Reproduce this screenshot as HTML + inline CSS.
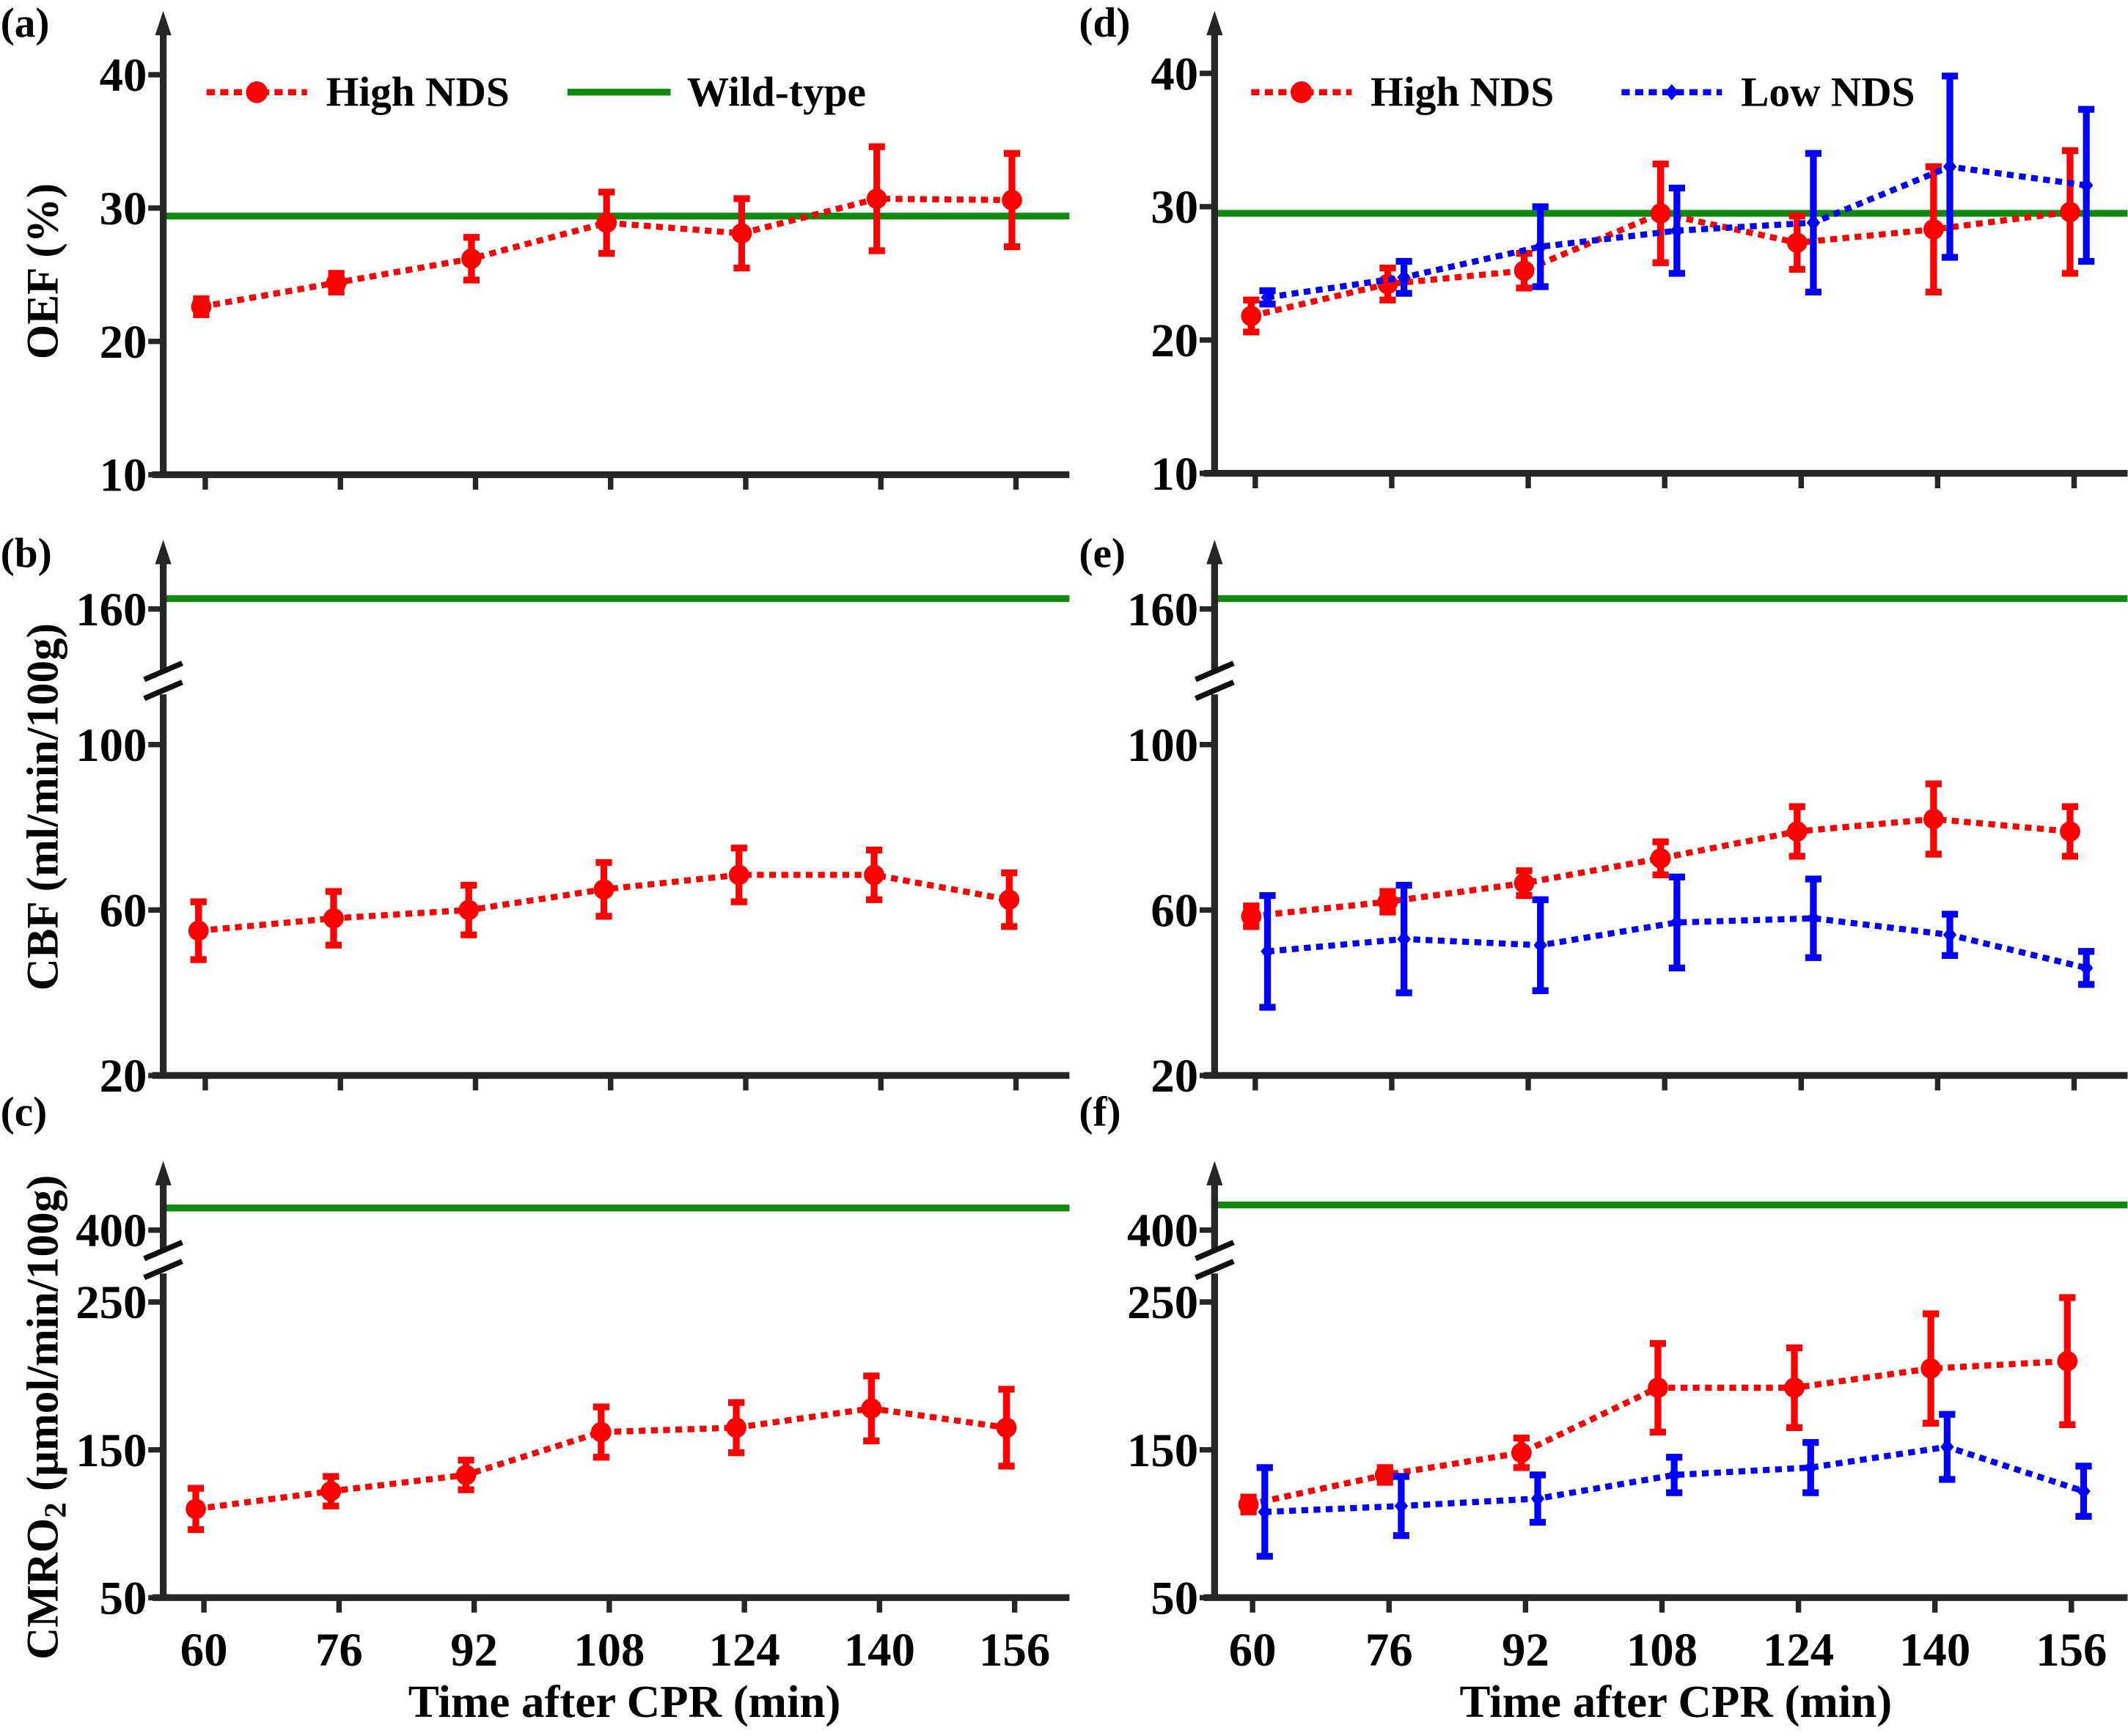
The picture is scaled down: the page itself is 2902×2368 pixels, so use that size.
<!DOCTYPE html>
<html><head><meta charset="utf-8"><style>
html,body{margin:0;padding:0;background:#fff}
svg{display:block}
svg text{font-family:"Liberation Serif","DejaVu Serif","Times New Roman",serif !important;font-weight:bold;fill:#000}
</style></head><body>
<svg id="fig" width="2902" height="2368" viewBox="0 0 1568 1280" font-family="Liberation Serif, DejaVu Serif, serif" xmlns="http://www.w3.org/2000/svg"></svg>
<script>
const times=[60,76,92,108,124,140,156];
const oefHigh=[22.6,24.4,26.2,28.9,28.1,30.7,30.6];
const oefHighErr=[0.6,0.7,1.6,2.3,2.6,3.9,3.5];
const oefWild=29.4;
const cbfHigh=[55,58,60,65,68.5,68.5,62.5];
const cbfHighErr=[7,6.5,6,6.5,6.5,6,6.5];
const cbfWild=162.5;
const cmrHigh=[110,122,133,162,165,178,165];
const cmrHighErr=[14,10,10,17,17,22,26];
const cmrWild=415;
const dHigh=[21.8,24.2,25.2,29.5,27.3,28.3,29.6];
const dHighErr=[1.2,1.2,1.3,3.7,2,4.7,4.6];
const dLow=[23.2,24.7,27.0,28.2,28.8,33.0,31.6];
const dLowErr=[0.5,1.2,3,3.2,5.2,6.8,5.7];
const eHigh=[58.5,62,66.5,72.5,79,82,79];
const eHighErr=[2.5,2.5,3,4,6,8.5,6];
const eLow=[50,53,51.5,57,58,54,46];
const eLowErr=[13.5,13,11,11,9.5,5,4];
const fHigh=[113,133,148,192,192,205,210];
const fHighErr=[5,5,10,30,27,37,43];
const fLow=[108,112,117,133,138,152,122];
const fLowErr=[30,20,16,12,17,22,17];
const oefTicks=[10,20,30,40];
const cbfTicks=[20,60,100,160];
const cmrTicks=[50,150,250,400];

const svg=document.getElementById('fig');
const NS='http://www.w3.org/2000/svg';
const FF='Liberation Serif, DejaVu Serif, serif';
function mk(tag,attrs,parent){const e=document.createElementNS(NS,tag);for(const k in attrs)e.setAttribute(k,attrs[k]);if(tag==='text'){e.setAttribute('font-family',FF);e.setAttribute('font-weight','bold');}(parent||svg).appendChild(e);return e;}

function yOEF(v){return 350-(v-10)*9.83;}
function yCBF(v){return v>130?449-(v-160)*3.05:793-(v-20)*3.05;}
function yCMR(v){return v>330?907-(v-400)*1.09:1178-(v-50)*1.09;}

function panel(opt){
  const g=mk('g',{});
  
  
  const L=opt.x0,R=opt.x1,B=opt.bottom,T=opt.top;
  const xs=t=>opt.xl+(t-60)*opt.xstep/16;
  const wl=mk('line',{x1:L,x2:R,y1:opt.ys(opt.wild),y2:opt.ys(opt.wild),stroke:'#0f8a0f','stroke-width':5},g);
  
  
  const ax=mk('g',{},g);
  
  
  mk('line',{x1:L,x2:L,y1:B+2,y2:T+12,stroke:'#262626','stroke-width':5},ax);
  mk('polygon',{points:`${L-6},${T+18} ${L},${T} ${L+6},${T+18}`,fill:'#262626'},ax);
  mk('line',{x1:L-8,x2:R,y1:B,y2:B,stroke:'#262626','stroke-width':5},ax);
  times.forEach(t=>{
    mk('line',{x1:xs(t),x2:xs(t),y1:B,y2:B+11,stroke:'#262626','stroke-width':4},ax);
    if(opt.xlabels){const tx=mk('text',{x:xs(t),y:B+50,'text-anchor':'middle','font-size':35},ax);tx.textContent=t;
      }
  });
  opt.ticks.forEach(v=>{
    const y=opt.ys(v);
    mk('line',{x1:L-11,x2:L,y1:y,y2:y,stroke:'#262626','stroke-width':4},ax);
    const tx=mk('text',{x:L-12,y:y+12,'text-anchor':'end','font-size':35},ax);tx.textContent=v;
    
  });
  if(opt.brk){
    mk('rect',{x:L-8,y:opt.brk-9,width:16,height:18,fill:'#fff'},ax);
    mk('line',{x1:L-14,y1:opt.brk-2,x2:L+14,y2:opt.brk-14,stroke:'#111','stroke-width':4},ax);
    mk('line',{x1:L-14,y1:opt.brk+12,x2:L+14,y2:opt.brk,stroke:'#111','stroke-width':4},ax);
  }
  function series(vals,errs,color,dx,marker,nm){
    const sg=mk('g',{},g);
    
    
    const pts=times.map((t,i)=>[xs(t)+dx,opt.ys(vals[i])]);
    mk('polyline',{points:pts.map(p=>p.join(',')).join(' '),fill:'none',stroke:color,'stroke-width':4.5,'stroke-dasharray':'5,4'},sg);
    times.forEach((t,i)=>{
      const x=xs(t)+dx,y1=opt.ys(vals[i]+errs[i]),y2=opt.ys(vals[i]-errs[i]);
      mk('line',{x1:x,x2:x,y1:y1,y2:y2,stroke:color,'stroke-width':5},sg);
      mk('line',{x1:x-6,x2:x+6,y1:y1,y2:y1,stroke:color,'stroke-width':5},sg);
      mk('line',{x1:x-6,x2:x+6,y1:y2,y2:y2,stroke:color,'stroke-width':5},sg);
      if(marker==='circle'){const c=mk('circle',{cx:x,cy:pts[i][1],r:7.5,fill:color},sg);
        }
      else{const y=pts[i][1];const c=mk('polygon',{points:`${x},${y-6} ${x+5},${y} ${x},${y+6} ${x-5},${y}`,fill:color},sg);
        }
    });
  }
  series(opt.high,opt.highErr,'#ff0000',opt.hdx,'circle','high-nds-series');
  if(opt.low)series(opt.low,opt.lowErr,'#0000ff',opt.ldx,'diamond','low-nds-series');
  const lb=mk('text',{x:opt.labx,y:opt.laby,'font-size':31},g);lb.textContent=opt.label;
  
}
const Lx=120,Rx=788,Ll=895,Rl=1568;
panel({name:'panel-a',x0:Lx,x1:Rx,top:8,bottom:350,ys:yOEF,ticks:oefTicks,wild:oefWild,high:oefHigh,highErr:oefHighErr,hdx:-3,xl:151,xstep:99.6,label:'(a)',labx:0,laby:27});
panel({name:'panel-b',x0:Lx,x1:Rx,top:398,bottom:793,ys:yCBF,ticks:cbfTicks,wild:cbfWild,high:cbfHigh,highErr:cbfHighErr,hdx:-5,xl:151,xstep:99.6,brk:503,label:'(b)',labx:0,laby:418});
panel({name:'panel-c',x0:Lx,x1:Rx,top:856,bottom:1178,ys:yCMR,ticks:cmrTicks,wild:cmrWild,high:cmrHigh,highErr:cmrHighErr,hdx:-6,xl:150,xstep:99.6,brk:930,label:'(c)',labx:0,laby:830,xlabels:true});
panel({name:'panel-d',x0:Ll,x1:Rl,top:8,bottom:349,ys:v=>349-(v-10)*9.83,ticks:oefTicks,wild:29.5,high:dHigh,highErr:dHighErr,hdx:-3,low:dLow,lowErr:dLowErr,ldx:9,xl:925,xstep:100.6,label:'(d)',labx:795,laby:27});
panel({name:'panel-e',x0:Ll,x1:Rl,top:398,bottom:793,ys:yCBF,ticks:cbfTicks,wild:cbfWild,high:eHigh,highErr:eHighErr,hdx:-3,low:eLow,lowErr:eLowErr,ldx:9,xl:925,xstep:100.6,brk:503,label:'(e)',labx:795,laby:418});
panel({name:'panel-f',x0:Ll,x1:Rl,top:856,bottom:1178,ys:yCMR,ticks:cmrTicks,wild:cmrWild+2,high:fHigh,highErr:fHighErr,hdx:-3,low:fLow,lowErr:fLowErr,ldx:9,xl:923,xstep:100.6,brk:930,label:'(f)',labx:795,laby:830,xlabels:true});

function title(txt,x,y,rot,nm,size){const t=mk('text',{x:x,y:y,'text-anchor':'middle','font-size':size||33});
  if(rot)t.setAttribute('transform',`rotate(-90 ${x} ${y})`);t.textContent=txt;
  return t;}
title('OEF (%)',42,200,true,'y-axis-title-oef');
title('CBF (ml/min/100g)',42,595,true,'y-axis-title-cbf');
const cm=title('',42,1045,true,'y-axis-title-cmro2');
cm.innerHTML='CMRO<tspan font-size="23" dy="6">2</tspan><tspan dy="-6"> (μmol/min/100g)</tspan>';
title('Time after CPR (min)',460,1266,false,'x-axis-title-left',34);
title('Time after CPR (min)',1235,1266,false,'x-axis-title-right',34);

function legend(x,y,color,kind,txt,nm){
  const g=mk('g',{});
  if(kind==='green')mk('line',{x1:x,x2:x+76,y1:y,y2:y,stroke:'#0f8a0f','stroke-width':5},g);
  else{mk('line',{x1:x,x2:x+74,y1:y,y2:y,stroke:color,'stroke-width':4.5,'stroke-dasharray':'6,4'},g);
    if(kind==='circle')mk('circle',{cx:x+37,cy:y,r:8,fill:color},g);
    else mk('polygon',{points:`${x+37},${y-6} ${x+42},${y} ${x+37},${y+6} ${x+32},${y}`,fill:color},g);}
  const t=mk('text',{x:x+88,y:y+10,'font-size':31},g);t.textContent=txt;
}
legend(152,68,'#ff0000','circle','High NDS','legend-high-nds-a');
legend(418,68,'#0f8a0f','green','Wild-type','legend-wild-type');
legend(922,68,'#ff0000','circle','High NDS','legend-high-nds-d');
legend(1195,68,'#0000ff','diamond','Low NDS','legend-low-nds');
</script>
</body></html>
